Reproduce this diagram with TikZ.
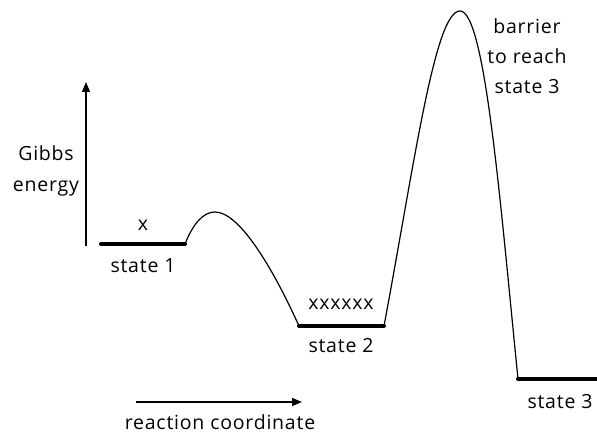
\documentclass[tikz,border=0pt]{standalone}
\usepackage{fontspec}
\setmainfont{Open Sans}[LetterSpace=4]
\usetikzlibrary{arrows.meta}
\begin{document}
\begin{tikzpicture}[x=1pt,y=-1pt,
  lbl/.style={font=\fontsize{19.5}{30}\selectfont, inner sep=0pt, align=center},
  level/.style={line width=4pt, line cap=round},
  curve/.style={line width=1.2pt},
  axis/.style={line width=1.2pt, -{Triangle[length=10pt,width=8pt]}}]
\useasboundingbox (0,0) rectangle (597,435);
% coordinates
\coordinate (s1a) at (101,244);
\coordinate (s1b) at (185,244);
\coordinate (p1) at (215,212);
\coordinate (s2a) at (299,326);
\coordinate (s2b) at (384,326);
\coordinate (p2) at (460,11);
\coordinate (s3a) at (518,379);
\coordinate (s3b) at (600,379);
\coordinate (ya) at (86,246);
\coordinate (yb) at (86,82);
\coordinate (xa) at (136,402);
\coordinate (xb) at (302,402);
% levels
\draw[level] (s1a) -- (s1b);
\draw[level] (s2a) -- (s2b);
\draw[level] (s3a) -- (s3b);
% curves
\draw[curve] (s1b) .. controls (193,224) and (203,212) .. (p1)
  .. controls (238,212) and (270,262) .. (s2a);
\draw[curve] (s2b) .. controls (415,160) and (435,11) .. (p2)
  .. controls (485,11) and (500,200) .. (s3a);
% axes
\draw[axis] (ya) -- (yb);
\draw[axis] (xa) -- (xb);
% labels
\node[lbl] (gibbs) at (46,171) {Gibbs\\[1pt]energy};
\node[lbl] (x1) at (143,225) {x};
\node[lbl] (st1) at (143,266) {state 1};
\node[lbl] (x2) at (341,304) {xxxxxx};
\node[lbl] (st2) at (341,346) {state 2};
\node[lbl] (st3) at (560,402) {state 3};
\node[lbl] (bar) at (527,56) {barrier\\to reach\\state 3};
\node[lbl] (rc) at (220,422) {reaction coordinate};
\end{tikzpicture}
\end{document}
